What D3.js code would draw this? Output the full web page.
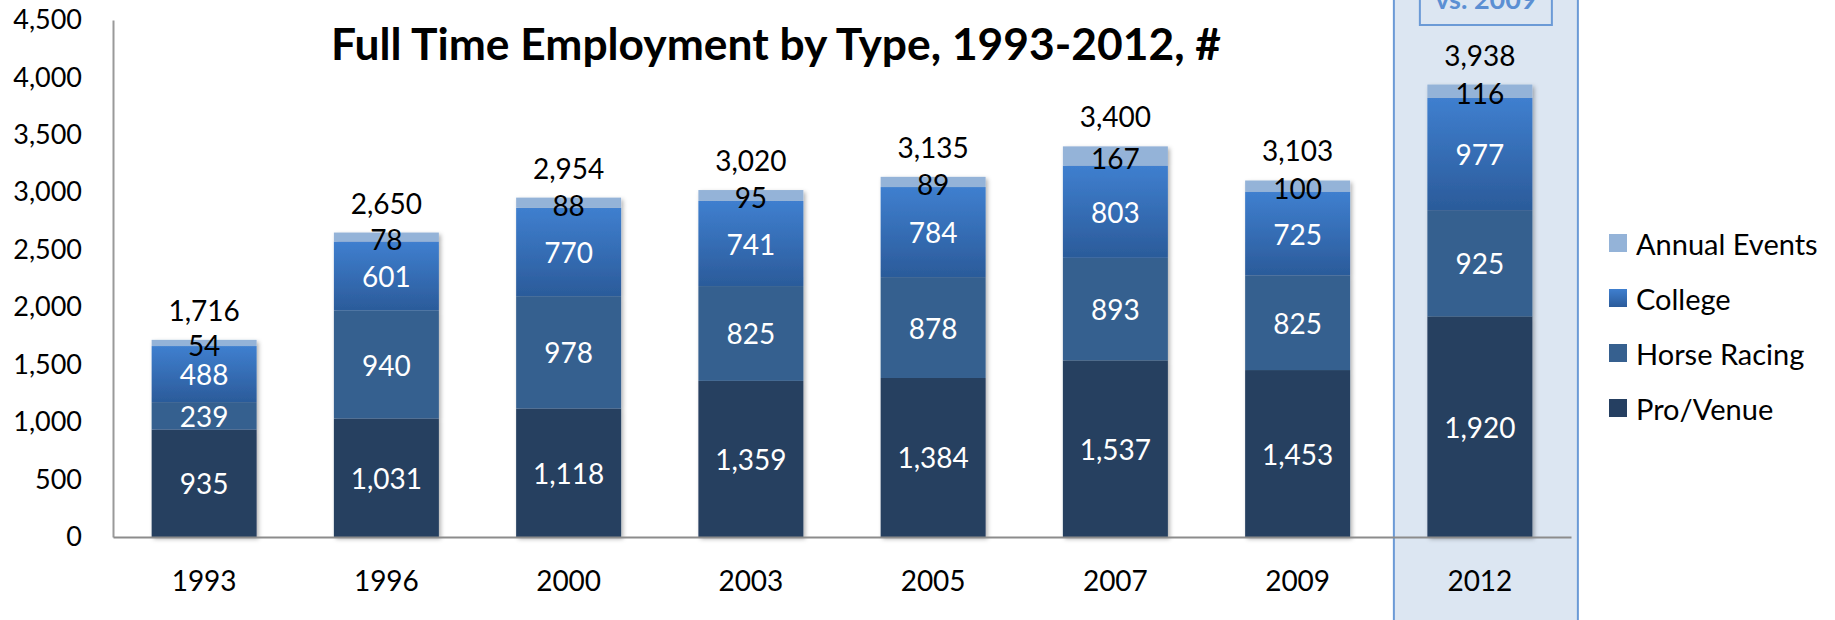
<!DOCTYPE html>
<html>
<head>
<meta charset="utf-8">
<script src="https://cdn.jsdelivr.net/npm/d3@7"></script>
<style>
  body { margin: 0; background: #fff; }
  svg { display: block; font-family: Lato, "Open Sans", sans-serif; }
</style>
</head>
<body>
<svg id="chart" width="1835" height="620"></svg>
<script>
// data
const years = ["1993", "1996", "2000", "2003", "2005", "2007", "2009", "2012"];
const proVenue = [935, 1031, 1118, 1359, 1384, 1537, 1453, 1920];
const horseRacing = [239, 940, 978, 825, 878, 893, 825, 925];
const college = [488, 601, 770, 741, 784, 803, 725, 977];
const annualEvents = [54, 78, 88, 95, 89, 167, 100, 116];
const seriesNames = ["Pro/Venue", "Horse Racing", "College", "Annual Events"];
const yTicks = [0, 500, 1000, 1500, 2000, 2500, 3000, 3500, 4000, 4500];

const margin = { top: 20, left: 113, bottom: 83 };
const plotRight = 1571;

const svg = d3.select("#chart");
const width = +svg.attr("width");
const height = +svg.attr("height");

const rows = years.map((y, i) => ({
  year: y,
  "Pro/Venue": proVenue[i],
  "Horse Racing": horseRacing[i],
  "College": college[i],
  "Annual Events": annualEvents[i]
}));

const stacked = d3.stack().keys(seriesNames)(rows);

const x = d3.scaleBand().domain(years).range([margin.left, plotRight])
  .paddingInner(0.424).paddingOuter(0.212);
const y = d3.scaleLinear().domain([0, 4500]).range([height - margin.bottom, margin.top]);

const defs = svg.append("defs");
const grad = defs.append("linearGradient").attr("id", "collegeGrad")
  .attr("x1", 0).attr("y1", 0).attr("x2", 0).attr("y2", 1);
grad.append("stop").attr("offset", "0%").attr("stop-color", "#3f7fcf");
grad.append("stop").attr("offset", "100%").attr("stop-color", "#2b5b9a");

const shadow = defs.append("filter").attr("id", "shadow")
  .attr("x", "-10%").attr("y", "-10%").attr("width", "130%").attr("height", "130%");
shadow.append("feDropShadow").attr("dx", 2).attr("dy", 2).attr("stdDeviation", 2)
  .attr("flood-color", "#000").attr("flood-opacity", 0.3);

const colors = {
  "Pro/Venue": "#253f61",
  "Horse Racing": "#36608f",
  "College": "url(#collegeGrad)",
  "Annual Events": "#94b3d8"
};

// highlight box for 2012
const hx = x("2012") + x.bandwidth() / 2;
svg.append("rect")
  .attr("x", hx - 86).attr("y", -5)
  .attr("width", 184).attr("height", height + 10)
  .attr("fill", "#dce6f2").attr("stroke", "#6b9ad6").attr("stroke-width", 2);
svg.append("rect")
  .attr("x", hx - 60).attr("y", -5)
  .attr("width", 132).attr("height", 30)
  .attr("fill", "#dce6f2").attr("stroke", "#6b9ad6").attr("stroke-width", 2);
svg.append("text")
  .attr("x", hx + 6).attr("y", 9)
  .attr("text-anchor", "middle")
  .attr("font-weight", "bold").attr("font-size", 27)
  .attr("fill", "#5b8fd3")
  .text("vs. 2009");

// title
svg.append("text")
  .attr("x", 776).attr("y", 60)
  .attr("text-anchor", "middle")
  .attr("font-weight", "bold").attr("font-size", 43)
  .attr("textLength", 890).attr("lengthAdjust", "spacingAndGlyphs")
  .text("Full Time Employment by Type, 1993-2012, #");

// bars
const barG = svg.append("g").attr("filter", "url(#shadow)");
stacked.forEach(layer => {
  barG.append("g").selectAll("rect")
    .data(layer)
    .join("rect")
    .attr("x", d => x(d.data.year))
    .attr("y", d => y(d[1]))
    .attr("width", x.bandwidth())
    .attr("height", d => y(d[0]) - y(d[1]))
    .attr("fill", colors[layer.key]);
});

// segment labels
stacked.forEach(layer => {
  svg.append("g").selectAll("text")
    .data(layer)
    .join("text")
    .attr("x", d => x(d.data.year) + x.bandwidth() / 2)
    .attr("y", d => (y(d[0]) + y(d[1])) / 2 + (layer.key === "Annual Events" ? 2 : 0))
    .attr("text-anchor", "middle")
    .attr("dominant-baseline", "central")
    .attr("font-size", 28)
    .attr("fill", layer.key === "Annual Events" ? "#000" : "#fff")
    .text(d => d3.format(",")(d[1] - d[0]));
});

// totals
svg.append("g").selectAll("text")
  .data(rows)
  .join("text")
  .attr("x", d => x(d.year) + x.bandwidth() / 2)
  .attr("y", d => y(d3.sum(seriesNames, k => d[k])) - 30)
  .attr("text-anchor", "middle")
  .attr("dominant-baseline", "central")
  .attr("font-size", 28)
  .attr("fill", "#000")
  .text(d => d3.format(",")(d3.sum(seriesNames, k => d[k])));

// axes
const yAxis = svg.append("g")
  .attr("transform", `translate(${margin.left},0)`)
  .call(d3.axisLeft(y).tickValues(yTicks).tickFormat(d3.format(",")).tickSize(0).tickSizeOuter(0).tickPadding(31));
yAxis.select(".domain").attr("stroke", "#9a9a9a").attr("stroke-width", 2);
yAxis.selectAll("text").attr("font-size", 27).attr("font-family", "Lato").attr("fill", "#000");

const xAxis = svg.append("g")
  .attr("transform", `translate(0,${height - margin.bottom})`)
  .call(d3.axisBottom(x).tickSize(0).tickSizeOuter(0).tickPadding(34));
xAxis.select(".domain").attr("stroke", "#8c8c8c").attr("stroke-width", 2);
xAxis.selectAll("text").attr("font-size", 28).attr("font-family", "Lato").attr("fill", "#000");

// legend
const legendOrder = ["Annual Events", "College", "Horse Racing", "Pro/Venue"];
const legend = svg.append("g").selectAll("g")
  .data(legendOrder)
  .join("g")
  .attr("transform", (d, i) => `translate(1609,${243 + i * 55})`);
legend.append("rect")
  .attr("x", 0).attr("y", -9).attr("width", 18).attr("height", 18)
  .attr("fill", d => colors[d]);
legend.append("text")
  .attr("x", 27).attr("y", 0)
  .attr("dominant-baseline", "central")
  .attr("font-size", 29)
  .text(d => d);
</script>
</body>
</html>
